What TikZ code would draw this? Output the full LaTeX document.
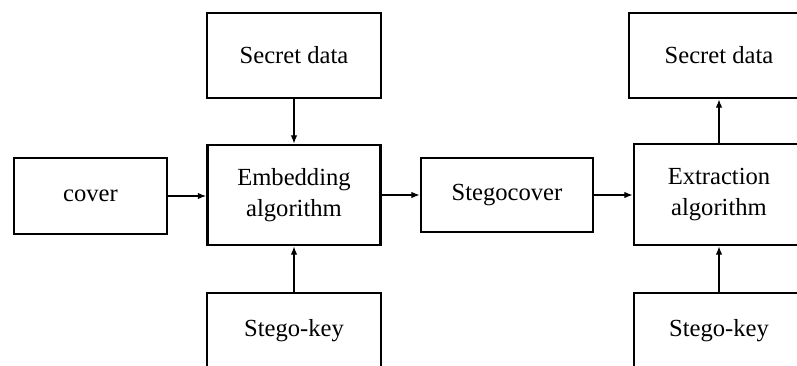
\documentclass[tikz,border=0pt]{standalone}
\usepackage{fontspec}
\setmainfont{Liberation Serif}
\usepackage{tikz}
\usetikzlibrary{arrows.meta, positioning}

\begin{document}
\begin{tikzpicture}[x=0.03cm, y=-0.03cm,
            blk/.style={rectangle, draw=black, line width=2.45pt, inner sep=0pt, align=center, font=\fontsize{21}{27}\selectfont},
            link/.style={draw=black, line width=0.9pt, -{Latex[length=7pt, width=5.5pt]}}]
            \useasboundingbox (0,0) rectangle (797,365);
            \clip (0,0) rectangle (797,365);
            \node[blk, minimum width=4.59cm, minimum height=2.28cm] (cover) at (90.5,196) {cover};
            \node[blk, minimum width=5.22cm, minimum height=2.55cm] (secretA) at (294,55.5) {Secret data};
            \node[blk, minimum width=5.19cm, minimum height=3.0cm] (embed) at (294,195) {Embedding\\algorithm};
            \node[blk, minimum width=5.22cm, minimum height=2.25cm] (keyA) at (294,330.5) {Stego-key};
            \node[blk, minimum width=5.16cm, minimum height=2.22cm] (stego) at (507,195) {Stegocover};
            \node[blk, minimum width=5.4cm, minimum height=2.55cm] (secretB) at (719,55.5) {Secret data};
            \node[blk, minimum width=5.1cm, minimum height=3.03cm] (extract) at (719,194.5) {Extraction\\algorithm};
            \node[blk, minimum width=5.1cm, minimum height=2.25cm] (keyB) at (719,330.5) {Stego-key};
            \draw[link] (cover) -- (cover -| embed.west);
            \draw[link] (secretA) -- (embed);
            \draw[link] (keyA) -- (embed);
            \draw[link] (embed.east |- stego) -- (stego);
            \draw[link] (stego) -- (stego -| extract.west);
            \draw[link] (extract) -- (secretB);
            \draw[link] (keyB) -- (extract);
        \end{tikzpicture}
\end{document}
